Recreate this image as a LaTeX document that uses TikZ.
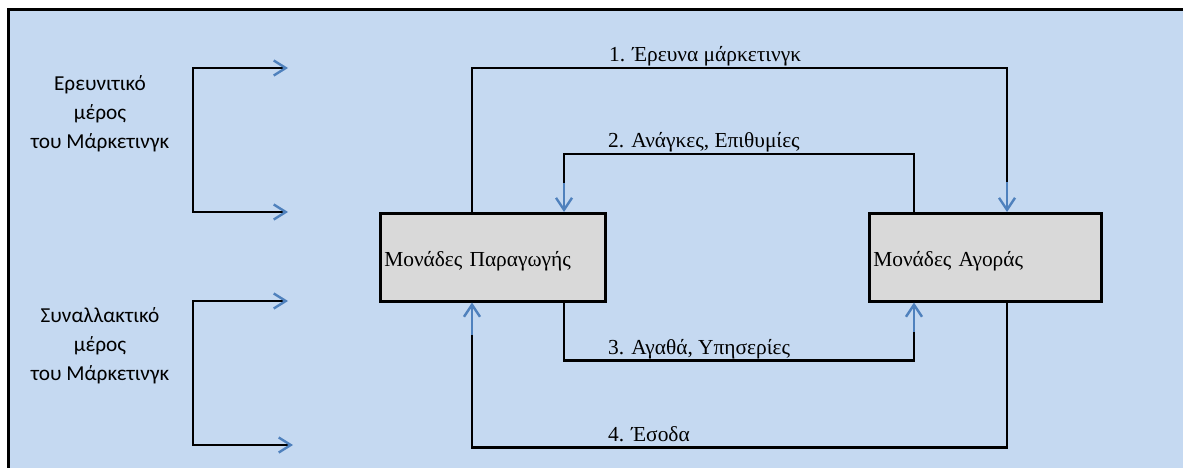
\documentclass[tikz,border=0pt]{standalone}
\usepackage{fontspec}
\setmainfont{Liberation Serif}
\newfontfamily\calfont{Carlito}
\usetikzlibrary{arrows.meta,calc}
\definecolor{panelblue}{HTML}{C5D9F1}
\definecolor{boxgray}{HTML}{D9D9D9}
\definecolor{tipblue}{HTML}{4F81BD}
\begin{document}
\begin{tikzpicture}[x=1pt,y=-1pt,
  unitbox/.style={draw=black,line width=2.6pt,fill=boxgray,minimum width=225pt,
    minimum height=88pt,anchor=north west,inner sep=4pt,
    font=\fontsize{21.4}{24}\selectfont,text depth=0pt},
  conn/.style={draw=black,line width=2.6pt},
  tipline/.style={draw=tipblue,line width=2.6pt,-{Straight Barb[length=12pt,width=16pt,line width=2.4pt]}},
  sidetip/.style={draw=black,line width=2.6pt,-{Straight Barb[length=12pt,width=15pt,line width=2.4pt,color=tipblue]}},
  flowlabel/.style={anchor=base west,inner sep=0pt,font=\fontsize{21.4}{24}\selectfont},
  sidelabel/.style={align=center,inner sep=0pt,font=\calfont\fontsize{21.3}{29}\selectfont}]
\useasboundingbox (0,0) rectangle (1183,468);
% panel
\fill[panelblue] (8,10) rectangle (1190,475);
\draw[line width=3pt] (8.5,475) -- (8.5,10) -- (1190,10);

% units
\node[unitbox,text width=217pt,align=left] (prod) at (379,212) {\raisebox{-4pt}{Μονάδες Παραγωγής}};
\node[unitbox,minimum width=232pt,text width=224pt,align=left] (mkt) at (868,212) {\raisebox{-4pt}{Μονάδες Αγοράς}};

% connector columns
\coordinate (cA) at (472,0);
\coordinate (cB) at (564,0);
\coordinate (cC) at (914,0);
\coordinate (cD) at (1007,0);

% 1: research
\draw[conn] (prod.north -| cA) -- ++(0,-144) coordinate (k1) -- (k1 -| cD) -- ++(0,114) coordinate (e1);
\draw[tipline] (e1) -- (e1 |- mkt.north);
\node[flowlabel] (l1) at ($(k1)+(137,-6)$) {1. Έρευνα μάρκετινγκ};

% 2: needs
\draw[conn] (mkt.north -| cC) -- ++(0,-58) coordinate (k2) -- (k2 -| cB) -- ++(0,29) coordinate (e2);
\draw[tipline] (e2) -- (e2 |- prod.north);
\node[flowlabel] (l2) at ($(k2 -| cB)+(44,-6)$) {2. Ανάγκες, Επιθυμίες};

% 3: goods
\draw[conn] (prod.south -| cB) -- ++(0,58) coordinate (k3) -- (k3 -| cC) -- ++(0,-29) coordinate (e3);
\draw[tipline] (e3) -- (e3 |- mkt.south);
\node[flowlabel] (l3) at ($(k3)+(44,-6)$) {3. Αγαθά, Υπησερίες};

% 4: revenue
\draw[conn] (mkt.south -| cD) -- ++(0,145) coordinate (k4) -- (k4 -| cA) -- ++(0,-113) coordinate (e4);
\draw[tipline] (e4) -- (e4 |- prod.south);
\node[flowlabel] (l4) at ($(k4 -| cA)+(136,-6)$) {4. Έσοδα};

% side brackets
\coordinate (b1) at (193,68);
\coordinate (b2) at (193,212);
\coordinate (b3) at (193,301);
\coordinate (b4) at (193,445);
\draw[sidetip] (b2) -- (b1) -- ++(95,0);
\draw[sidetip] (b1) -- (b2) -- ++(95,0);
\draw[sidetip] (b4) -- (b3) -- ++(95,0);
\draw[sidetip] (b3) -- (b4) -- ++(100,0);

\node[sidelabel] (s1) at (100,114) {Ερευνιτικό\\μέρος\\του Μάρκετινγκ};
\node[sidelabel] (s2) at (100,346) {Συναλλακτικό\\μέρος\\του Μάρκετινγκ};
\end{tikzpicture}
\end{document}
